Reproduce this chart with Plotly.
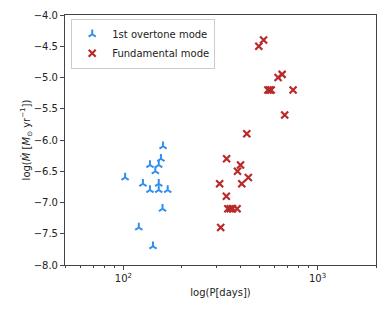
import plotly.graph_objects as go

# 1st overtone mode
ot_period = [160, 156, 137, 152, 146, 102, 126, 152, 137, 152, 169, 159, 120, 142]
ot_mdot = [-6.1, -6.3, -6.4, -6.4, -6.5, -6.6, -6.7, -6.7, -6.8, -6.8, -6.8, -7.1, -7.4, -7.7]

# Fundamental mode
fm_period = [432, 340, 401, 387, 440, 407, 313, 339, 345, 355, 365, 385, 317,
             527, 498, 657, 626, 555, 566, 577, 748, 677]
fm_mdot = [-5.9, -6.3, -6.4, -6.5, -6.6, -6.7, -6.7, -6.9, -7.1, -7.1, -7.1, -7.1, -7.4,
           -4.4, -4.5, -4.95, -5.0, -5.2, -5.2, -5.2, -5.2, -5.6]

y_ticks = [-4.0, -4.5, -5.0, -5.5, -6.0, -6.5, -7.0, -7.5, -8.0]
x_ticks = [100, 1000]
x_ticktext = ["10<sup>2</sup>", "10<sup>3</sup>"]
x_minor = [50, 60, 70, 80, 90, 200, 300, 400, 500, 600, 700, 800, 900, 2000]

fig = go.Figure()
fig.add_trace(go.Scatter(
    x=ot_period, y=ot_mdot, mode="markers", name="1st overtone mode",
    marker=dict(symbol="y-up", size=6, color="#2f8ff0",
                line=dict(color="#2f8ff0", width=2)),
))
fig.add_trace(go.Scatter(
    x=fm_period, y=fm_mdot, mode="markers", name="Fundamental mode",
    marker=dict(symbol="x-thin", size=7, color="#b82a2a",
                line=dict(color="#b82a2a", width=2.2)),
))

axis_common = dict(showline=True, mirror=True, linecolor="#444", linewidth=1,
                   ticks="outside", ticklen=4, tickcolor="#444", showgrid=False,
                   zeroline=False, automargin=False,
                   tickfont=dict(size=10, color="#222"))

fig.update_layout(
    width=390, height=312,
    margin=dict(l=57, r=22, t=7, b=55),
    plot_bgcolor="white", paper_bgcolor="white",
    font=dict(family="DejaVu Sans", size=10, color="#222"),
    showlegend=True,
    legend=dict(x=0.02, y=0.985, xanchor="left", yanchor="top",
                bordercolor="#cccccc", borderwidth=1, bgcolor="white",
                font=dict(size=10), tracegroupgap=0, itemwidth=30),
    xaxis=dict(type="log", range=[1.69897, 3.30103], tickvals=x_ticks,
               ticktext=x_ticktext,
               title=dict(text="log(P[days])", font=dict(size=10), standoff=5),
               minor=dict(tickmode="array", tickvals=x_minor, ticks="outside",
                          ticklen=2, tickcolor="#444", showgrid=False),
               **axis_common),
    yaxis=dict(range=[-8, -4], tickvals=y_ticks, tickformat=".1f",
               title=dict(text="log(<i>Ṁ</i> [<i>M</i><sub>⊙</sub> yr<sup>−1</sup>])",
                          font=dict(size=10), standoff=1),
               **axis_common),
)

fig.write_html("out.html")
